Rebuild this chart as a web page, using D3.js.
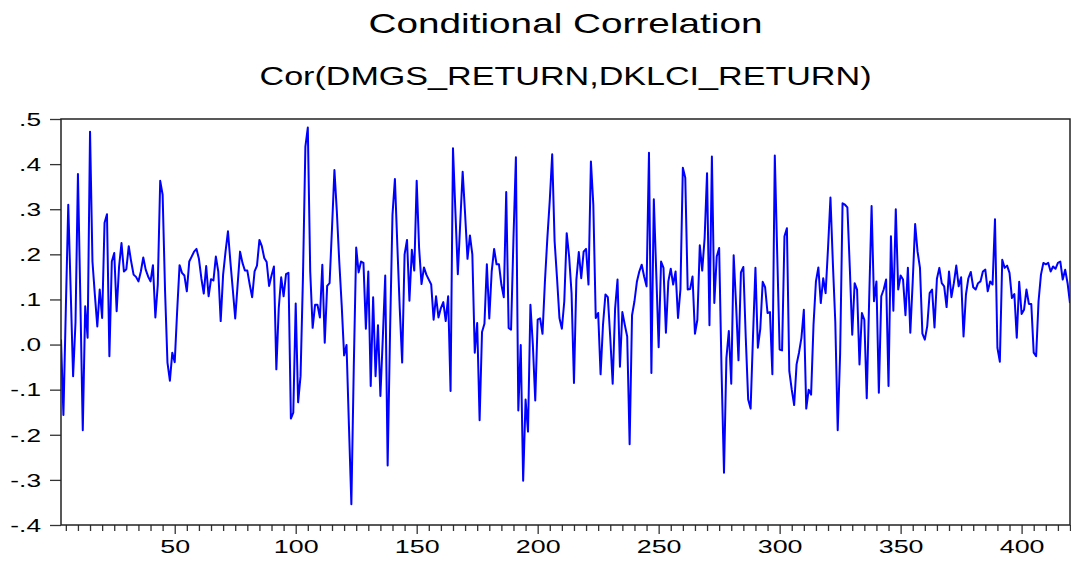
<!DOCTYPE html>
<html>
<head>
<meta charset="utf-8">
<script src="https://cdn.jsdelivr.net/npm/d3@7"></script>
<style>
  html, body { margin: 0; padding: 0; background: #ffffff; }
  svg { display: block; }
  text { font-family: Arial, "Liberation Sans", Helvetica, sans-serif; fill: #000; }
</style>
</head>
<body>
<svg id="chart" width="1071" height="561"></svg>
<script>
// ---- data ----
const title = "Conditional Correlation";
const subtitle = "Cor(DMGS_RETURN,DKLCI_RETURN)";
const firstObs = 3;
const lastObs = 420;
const yTicks = [-0.4, -0.3, -0.2, -0.1, 0.0, 0.1, 0.2, 0.3, 0.4, 0.5];
const xMajorTicks = [50, 100, 150, 200, 250, 300, 350, 400];
const corr = [
  0.011,-0.156,0.08,0.31,0.12,-0.07,0.05,0.378,0.1,-0.19,
  0.085,0.015,0.472,0.184,0.11,0.04,0.122,0.059,0.27,0.289,
  -0.026,0.184,0.203,0.074,0.173,0.225,0.162,0.167,0.218,0.184,
  0.155,0.15,0.14,0.162,0.193,0.166,0.151,0.14,0.176,0.06,
  0.133,0.363,0.332,0.12,-0.04,-0.08,-0.018,-0.039,0.074,0.176,
  0.159,0.153,0.118,0.184,0.195,0.206,0.212,0.19,0.147,0.113,
  0.174,0.107,0.145,0.142,0.195,0.162,0.052,0.155,0.206,0.251,
  0.184,0.122,0.058,0.133,0.206,0.181,0.164,0.164,0.133,0.105,
  0.162,0.175,0.232,0.218,0.192,0.183,0.13,0.153,0.173,-0.055,
  0.081,0.149,0.107,0.156,0.159,-0.164,-0.151,0.091,-0.128,-0.07,
  0.15,0.439,0.481,0.162,0.037,0.088,0.088,0.06,0.177,0.004,
  0.13,0.136,0.258,0.387,0.295,0.184,0.088,-0.024,-0.001,-0.18,
  -0.354,-0.05,0.215,0.16,0.184,0.181,0.035,0.162,-0.092,0.105,
  -0.07,0.043,-0.114,0.015,0.153,-0.268,0.03,0.288,0.367,0.22,
  0.08,-0.04,0.2,0.232,0.097,0.21,0.164,0.363,0.214,0.134,
  0.171,0.155,0.144,0.133,0.055,0.107,0.06,0.081,0.094,0.052,
  0.107,-0.103,0.435,0.295,0.156,0.27,0.383,0.29,0.19,0.242,
  0.2,-0.018,0.048,-0.168,0.028,0.046,0.178,0.058,0.162,0.212,
  0.178,0.178,0.133,0.105,0.338,0.037,0.033,0.236,0.415,-0.146,
  -0.001,-0.302,-0.122,-0.193,0.088,0.0,-0.124,0.055,0.058,0.024,
  0.14,0.236,0.32,0.422,0.229,0.147,0.059,0.035,0.096,0.247,
  0.195,0.114,-0.085,0.144,0.205,0.147,0.206,0.212,0.133,0.406,
  0.31,0.059,0.07,-0.066,0.044,0.111,0.105,0.015,-0.087,0.08,
  0.144,-0.049,0.072,0.044,0.018,-0.221,0.065,0.096,0.139,0.162,
  0.177,0.151,0.129,0.425,-0.063,0.322,0.16,-0.006,0.184,0.17,
  0.026,0.14,0.168,0.133,0.162,0.059,0.122,0.392,0.37,0.122,
  0.123,0.151,0.024,0.055,0.22,0.164,0.236,0.38,0.043,0.417,
  0.092,0.195,0.214,-0.06,-0.284,-0.03,0.03,-0.087,0.198,0.088,
  -0.035,0.16,0.172,0.015,-0.122,-0.142,0.02,0.17,-0.007,0.035,
  0.139,0.127,0.07,0.072,-0.066,0.419,0.2,-0.011,-0.013,0.24,
  0.258,-0.059,-0.1,-0.134,-0.044,-0.018,0.015,0.077,-0.142,-0.1,
  -0.111,0.044,0.14,0.171,0.092,0.147,0.114,0.214,0.326,0.18,
  0.05,-0.19,-0.02,0.313,0.31,0.304,0.17,0.022,0.136,0.122,
  -0.044,0.07,0.055,-0.119,0.1,0.307,0.096,0.14,-0.107,0.107,
  0.122,0.144,-0.092,0.24,0.075,0.3,0.122,0.153,0.144,0.065,
  0.17,0.026,0.14,0.267,0.206,0.17,0.024,0.011,0.041,0.114,
  0.122,0.038,0.146,0.17,0.136,0.129,0.083,0.162,0.105,0.136,
  0.175,0.129,0.149,0.018,0.111,0.147,0.161,0.127,0.122,0.136,
  0.14,0.162,0.166,0.118,0.14,0.133,0.278,-0.007,-0.038,0.188,
  0.17,0.175,0.159,0.103,0.112,0.015,0.139,0.068,0.077,0.122,
  0.09,0.09,-0.018,-0.026,0.096,0.155,0.181,0.178,0.181,0.162,
  0.173,0.168,0.181,0.184,0.144,0.166,0.136,0.092
];
const obs = d3.range(firstObs, lastObs + 1);
const series = obs.map((o, i) => ({ o: o, v: corr[i] }));

// ---- layout ----
const L = 61, R = 1070, T = 119, B = 525;
const svg = d3.select("#chart");

const x = d3.scaleLinear().domain([firstObs, lastObs]).range([L, R]);
const y = d3.scaleLinear().domain([-0.4, 0.5]).range([B, T]);

function widen(sel, f) {
  sel.each(function () {
    const w = this.getComputedTextLength();
    d3.select(this).attr("textLength", w * f).attr("lengthAdjust", "spacingAndGlyphs");
  });
}

// titles
svg.append("text").attr("x", (L + R) / 2).attr("y", 33).attr("text-anchor", "middle")
  .style("font-size", "28px").attr("textLength", 394).attr("lengthAdjust", "spacingAndGlyphs")
  .text(title);
svg.append("text").attr("x", (L + R) / 2).attr("y", 85).attr("text-anchor", "middle")
  .style("font-size", "25px").attr("textLength", 612).attr("lengthAdjust", "spacingAndGlyphs")
  .text(subtitle);

// y axis
const fmtY = d => {
  const r = Math.round(d * 10) / 10;
  let s = d3.format(".1f")(Math.abs(r)).replace(/^0/, "");
  return (r < 0 ? "-" : "") + s;
};
const gy = svg.append("g").attr("transform", `translate(${L},0)`)
  .call(d3.axisLeft(y).tickValues(yTicks).tickFormat(fmtY).tickSize(11).tickPadding(9));
gy.select(".domain").remove();
gy.selectAll(".tick line").attr("stroke", "#333").attr("stroke-width", 1.3);
gy.selectAll(".tick text").style("font-size", "17.5px").attr("dy", "0.36em")
  .style("font-family", "Arial, 'Liberation Sans', sans-serif");
widen(gy.selectAll(".tick text"), 1.5);

// x axis minor ticks
const minorTicks = d3.range(5, lastObs + 1, 5).filter(t => t % 50 !== 0);
const gxMinor = svg.append("g").attr("transform", `translate(0,${B})`)
  .call(d3.axisBottom(x).tickValues(minorTicks).tickFormat("").tickSize(6));
gxMinor.select(".domain").remove();
gxMinor.selectAll(".tick line").attr("stroke", "#333").attr("stroke-width", 1.3);

const gx = svg.append("g").attr("transform", `translate(0,${B})`)
  .call(d3.axisBottom(x).tickValues(xMajorTicks).tickFormat(d3.format("d")).tickSize(9).tickPadding(6));
gx.select(".domain").remove();
gx.selectAll(".tick line").attr("stroke", "#333").attr("stroke-width", 1.3);
gx.selectAll(".tick text").style("font-size", "18.5px")
  .style("font-family", "Arial, 'Liberation Sans', sans-serif");
widen(gx.selectAll(".tick text"), 1.45);

// clip + line
svg.append("clipPath").attr("id", "clip").append("rect")
  .attr("x", L).attr("y", T).attr("width", R - L).attr("height", B - T);

const line = d3.line().x(d => x(d.o)).y(d => y(d.v));
svg.append("path").datum(series)
  .attr("clip-path", "url(#clip)")
  .attr("fill", "none").attr("stroke", "#0000ff").attr("stroke-width", 2)
  .attr("stroke-linejoin", "round")
  .attr("d", line);

// frame
svg.append("rect").attr("x", L).attr("y", T).attr("width", R - L).attr("height", B - T)
  .attr("fill", "none").attr("stroke", "#222").attr("stroke-width", 1.5);
</script>
</body>
</html>
